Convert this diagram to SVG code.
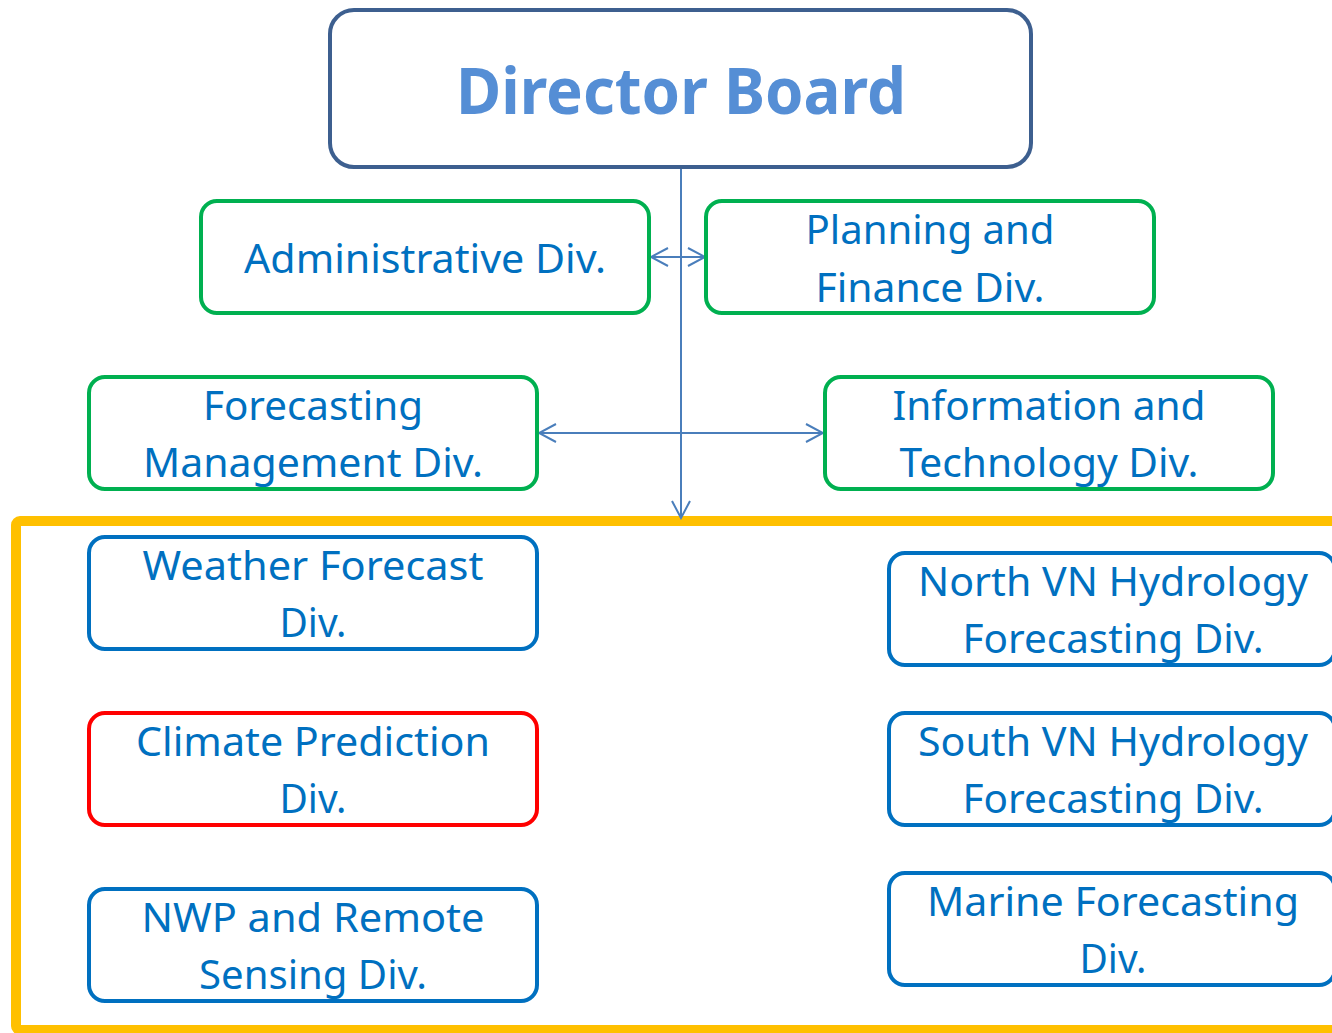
<svg xmlns="http://www.w3.org/2000/svg" width="1332" height="1033" viewBox="0 0 1332 1033">
<defs>
<style>
.t{font-family:"Noto Sans","Open Sans","Liberation Sans",sans-serif;font-size:40px;fill:#0070c0;text-anchor:middle}
.g{fill:#fff;stroke:#00b050;stroke-width:4}
.b{fill:#fff;stroke:#0070c0;stroke-width:4}
.r{fill:#fff;stroke:#ff0000;stroke-width:4}
.c{fill:none;stroke:#4a7ebb;stroke-width:2}
</style>
<marker id="ah" viewBox="0 0 20 20" refX="18" refY="10" markerWidth="20" markerHeight="20" markerUnits="userSpaceOnUse" orient="auto-start-reverse">
<path d="M1,1 L18,10 L1,19" fill="none" stroke="#4a7ebb" stroke-width="2"/>
</marker>
</defs>
<rect width="1332" height="1033" fill="#fff"/>
<g id="group-box"><rect x="16" y="521" width="1330" height="509" rx="4" fill="none" stroke="#ffc000" stroke-width="10"/></g>
<g id="director"><rect x="330" y="10" width="701" height="157" rx="24" fill="#fff" stroke="#3d5f8f" stroke-width="4"/>
<text x="681" y="114" style="font-family:'Noto Sans','Open Sans',sans-serif;font-size:64px;font-weight:bold;fill:#558ed5;text-anchor:middle" textLength="450" lengthAdjust="spacingAndGlyphs">Director Board</text></g>
<g id="connectors">
<line class="c" x1="681" y1="169" x2="681" y2="518" marker-end="url(#ah)"/>
<line class="c" x1="651" y1="257" x2="705" y2="257" marker-start="url(#ah)" marker-end="url(#ah)"/>
<line class="c" x1="539" y1="433" x2="823" y2="433" marker-start="url(#ah)" marker-end="url(#ah)"/>
</g>
<g id="admin"><rect class="g" x="201" y="201" width="448" height="112" rx="16"/>
<text class="t" x="425" y="273" textLength="362" lengthAdjust="spacingAndGlyphs">Administrative Div.</text></g>
<g id="planning"><rect class="g" x="706" y="201" width="448" height="112" rx="16"/>
<text class="t" x="930" y="244" textLength="249" lengthAdjust="spacingAndGlyphs">Planning and</text>
<text class="t" x="930" y="302" textLength="229" lengthAdjust="spacingAndGlyphs">Finance Div.</text></g>
<g id="fcmgmt"><rect class="g" x="89" y="377" width="448" height="112" rx="16"/>
<text class="t" x="313" y="420" textLength="220" lengthAdjust="spacingAndGlyphs">Forecasting</text>
<text class="t" x="313" y="477" textLength="340" lengthAdjust="spacingAndGlyphs">Management Div.</text></g>
<g id="infotech"><rect class="g" x="825" y="377" width="448" height="112" rx="16"/>
<text class="t" x="1049" y="420" textLength="313" lengthAdjust="spacingAndGlyphs">Information and</text>
<text class="t" x="1049" y="477" textLength="299" lengthAdjust="spacingAndGlyphs">Technology Div.</text></g>
<g id="weather"><rect class="b" x="89" y="537" width="448" height="112" rx="16"/>
<text class="t" x="313" y="580" textLength="341" lengthAdjust="spacingAndGlyphs">Weather Forecast</text>
<text class="t" x="313" y="637" textLength="67" lengthAdjust="spacingAndGlyphs">Div.</text></g>
<g id="climate"><rect class="r" x="89" y="713" width="448" height="112" rx="16"/>
<text class="t" x="313" y="756" textLength="354" lengthAdjust="spacingAndGlyphs">Climate Prediction</text>
<text class="t" x="313" y="813" textLength="67" lengthAdjust="spacingAndGlyphs">Div.</text></g>
<g id="nwp"><rect class="b" x="89" y="889" width="448" height="112" rx="16"/>
<text class="t" x="313" y="932" textLength="343" lengthAdjust="spacingAndGlyphs">NWP and Remote</text>
<text class="t" x="313" y="989" textLength="228" lengthAdjust="spacingAndGlyphs">Sensing Div.</text></g>
<g id="north"><rect class="b" x="889" y="553" width="446" height="112" rx="16"/>
<text class="t" x="1113" y="596" textLength="390" lengthAdjust="spacingAndGlyphs">North VN Hydrology</text>
<text class="t" x="1113" y="653" textLength="301" lengthAdjust="spacingAndGlyphs">Forecasting Div.</text></g>
<g id="south"><rect class="b" x="889" y="713" width="446" height="112" rx="16"/>
<text class="t" x="1113" y="756" textLength="390" lengthAdjust="spacingAndGlyphs">South VN Hydrology</text>
<text class="t" x="1113" y="813" textLength="301" lengthAdjust="spacingAndGlyphs">Forecasting Div.</text></g>
<g id="marine"><rect class="b" x="889" y="873" width="446" height="112" rx="16"/>
<text class="t" x="1113" y="916" textLength="372" lengthAdjust="spacingAndGlyphs">Marine Forecasting</text>
<text class="t" x="1113" y="973" textLength="67" lengthAdjust="spacingAndGlyphs">Div.</text></g>
</svg>
